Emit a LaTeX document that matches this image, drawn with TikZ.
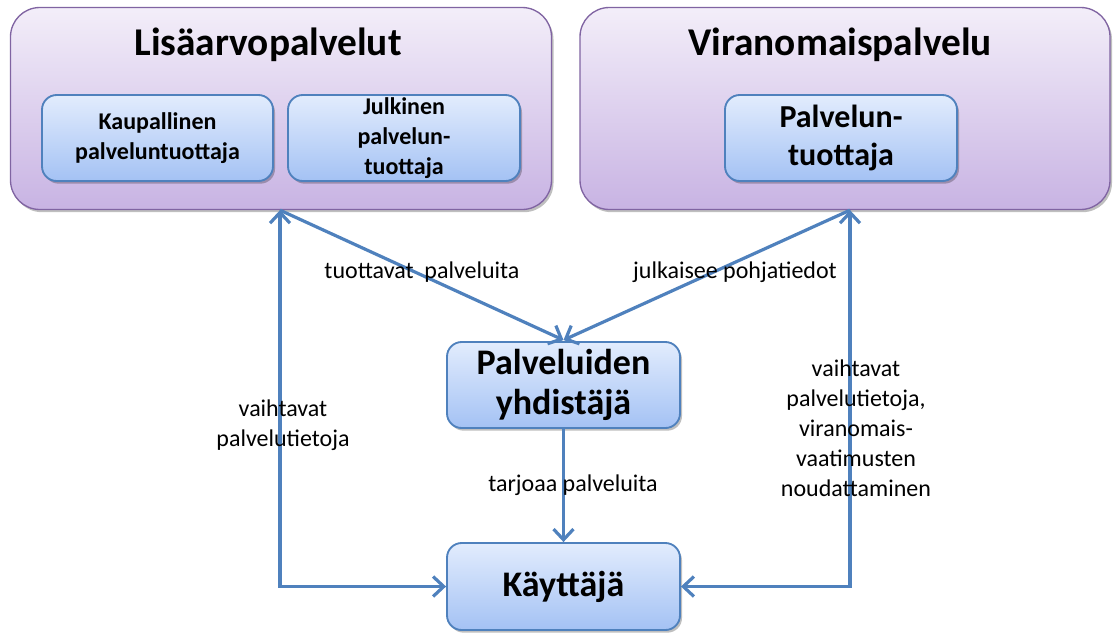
\documentclass[tikz,border=0pt]{standalone}
\usepackage{fontspec}
\setmainfont{Carlito}
\usetikzlibrary{arrows.meta,shadows,calc}
\definecolor{purpleB}{HTML}{8064A2}
\definecolor{purpleT}{HTML}{F3EEF9}
\definecolor{purpleBot}{HTML}{C8B3E3}
\definecolor{blueB}{HTML}{4F81BD}
\definecolor{blueT}{HTML}{E2ECFD}
\definecolor{blueBot}{HTML}{A4C2F4}
\definecolor{arrowc}{HTML}{4F81BD}
\begin{document}
\begin{tikzpicture}[x=0.75pt,y=-0.75pt,
  groupbox/.style={draw=purpleB, line width=1pt, rounded corners=22pt,
    top color=purpleT, bottom color=purpleBot,
    drop shadow={shadow xshift=1.5pt, shadow yshift=-2pt, opacity=0.25, fill=black}},
  itembox/.style={draw=blueB, line width=1.4pt, rounded corners=11pt,
    top color=blueT, bottom color=blueBot, align=center, font=\bfseries, inner sep=0pt,
    drop shadow={shadow xshift=1.5pt, shadow yshift=-2pt, opacity=0.25, fill=black}},
  grouptitle/.style={font=\fontsize{29.5}{34}\selectfont\bfseries},
  arr/.style={draw=arrowc, line width=2.4pt, line join=miter,
    arrows={-Straight Barb[length=8pt,width=15pt,line width=2.4pt]}},
  darr/.style={draw=arrowc, line width=2.4pt, line join=miter,
    arrows={Straight Barb[length=8pt,width=15pt,line width=2.4pt]-Straight Barb[length=8pt,width=15pt,line width=2.4pt]}},
  lbl/.style={font=\fontsize{18}{22.5}\selectfont, align=center, inner sep=0pt}
]
\useasboundingbox (0,0) rectangle (1113,633);

% group boxes
\node[groupbox, minimum width=541pt*0.75, minimum height=202pt*0.75] (L) at (281,108.5) {};
\node[groupbox, minimum width=530pt*0.75, minimum height=202pt*0.75] (R) at (845,108.5) {};
\node[grouptitle] (Lt) at (268,45) {Lisäarvopalvelut};
\node[grouptitle] (Rt) at (840,45) {Viranomaispalvelu};

% inner boxes
\node[itembox, minimum width=231pt*0.75, minimum height=86pt*0.75,
  font=\fontsize{18}{22.5}\selectfont\bfseries] (KP) at (157.5,138) {Kaupallinen\\palveluntuottaja};
\node[itembox, minimum width=232pt*0.75, minimum height=86pt*0.75,
  font=\fontsize{18}{22.5}\selectfont\bfseries] (JP) at (404,138) {Julkinen\\palvelun-\\tuottaja};
\node[itembox, minimum width=232pt*0.75, minimum height=86pt*0.75,
  font=\fontsize{24}{28}\selectfont\bfseries] (PT) at (841,138) {Palvelun-\\tuottaja};
\node[itembox, minimum width=233pt*0.75, minimum height=86pt*0.75,
  font=\fontsize{27}{30}\selectfont\bfseries] (PY) at (563.5,385) {Palveluiden\\yhdistäjä};
\node[itembox, minimum width=233pt*0.75, minimum height=87pt*0.75,
  font=\fontsize{27}{30}\selectfont\bfseries] (K) at (563.5,586.5) {Käyttäjä};

% anchor coordinates
\coordinate (lx) at (280,0);
\coordinate (rx) at (850,0);
\coordinate (ly) at (0,585);
\coordinate (Ltip) at (L.south -| lx);
\coordinate (Rtip) at (R.south -| rx);
\coordinate (PYin) at ($(PY.north)+(0,-1)$);

% connectors
\draw[arr] (Ltip) -- (PYin);
\draw[arr] (Rtip) -- (PYin);
\draw[darr] (Ltip) |- (K.west);
\draw[darr] (Rtip) |- (K.east);
\draw[arr] (PY.south) -- (K.north);

% labels
\node[lbl] (t1) at (422,272) {tuottavat\ \ palveluita};
\node[lbl] (t2) at (735,272) {julkaisee pohjatiedot};
\node[lbl] (t3) at (283,425) {vaihtavat\\palvelutietoja};
\node[lbl] (t4) at (573,485) {tarjoaa palveluita};
\node[lbl] (t5) at (856,428) {vaihtavat\\palvelutietoja,\\viranomais-\\vaatimusten\\noudattaminen};
\end{tikzpicture}
\end{document}
